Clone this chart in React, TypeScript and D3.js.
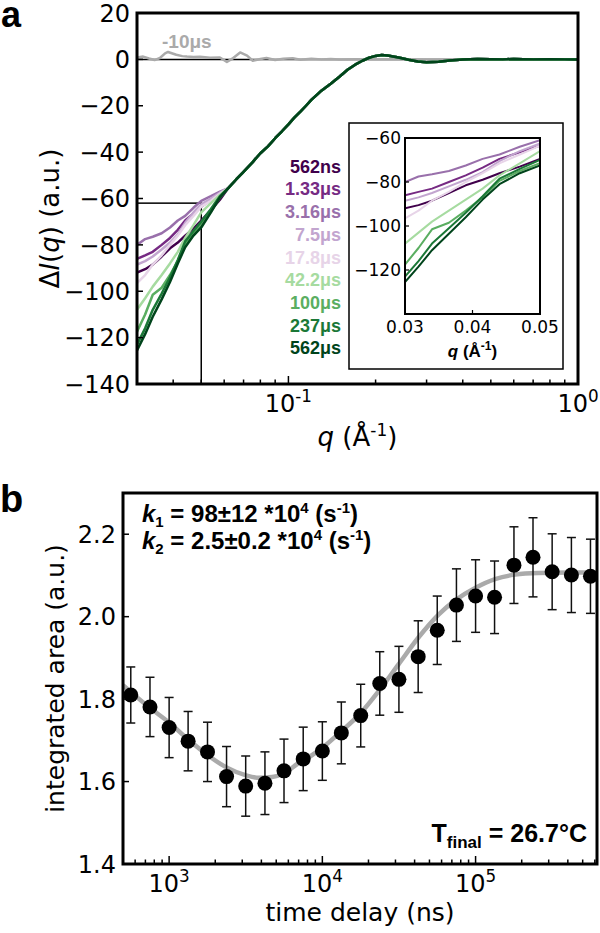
import React from 'react';
import * as d3 from 'd3';

// ---------- Panel a data ----------
const SERIES_LABELS = ['562ns', '1.33μs', '3.16μs', '7.5μs', '17.8μs', '42.2μs', '100μs', '237μs', '562μs'];
const SERIES_COLORS = ['#40004b', '#762a83', '#9970ab', '#c2a5cf', '#e7d4e8', '#a6dba0', '#5aae61', '#1b7837', '#00441b'];

const Q_LOW = [0.03, 0.032, 0.034, 0.0365, 0.039, 0.0415, 0.044, 0.047, 0.05, 0.054, 0.058];
const LOW_562NS = [-92, -90.5, -88.5, -85, -81.5, -79, -76, -73, -69.5, -65, -60.5];
const LOW_1_33US = [-86, -84.5, -83, -80, -77, -73.5, -69.5, -66.5, -63.5, -60.5, -58];
const LOW_3_16US = [-80, -77.5, -76.5, -75, -72.5, -69.5, -67.5, -64, -61, -59, -57];
const LOW_7_5US = [-88.5, -87, -85, -82, -79, -75.5, -70.5, -66, -62.5, -60, -57.5];
const LOW_17_8US = [-96.5, -93, -88.5, -84.5, -80, -76, -71.5, -67.5, -63.5, -61, -58];
const LOW_42_2US = [-108, -103, -98, -93, -88, -83, -77, -71.5, -66, -62, -58.5];
const LOW_100US = [-117.5, -110, -101.5, -98.5, -93, -87, -79.5, -75, -71.5, -65.5, -59.5];
const LOW_237US = [-123, -116, -108, -101, -94, -86.5, -78.5, -74, -70, -64.5, -59];
const LOW_562US = [-125.5, -118.5, -111, -103.5, -96, -88, -81, -76, -72.5, -66, -59.5];

const Q_TAIL = [0.062, 0.066, 0.07, 0.075, 0.08, 0.085, 0.09, 0.095, 0.1, 0.105, 0.11, 0.115, 0.12, 0.13, 0.14, 0.15, 0.16, 0.17, 0.18, 0.19, 0.2, 0.21, 0.22, 0.24, 0.26, 0.28, 0.3, 0.33, 0.36, 0.4, 0.45, 0.5, 0.55, 0.6, 0.7, 0.8, 0.9, 1.0];
const TAIL_VALUES = [-55.5, -51.8, -48.5, -44.5, -40.5, -37.5, -34, -31, -28, -25, -22.5, -20, -17.5, -13.5, -10.5, -7.5, -4.5, -2.3, -0.6, 0.7, 1.5, 1.9, 1.7, 0.8, -0.2, -0.9, -1.2, -1.0, -0.5, -0.1, 0.2, 0.1, 0, 0.2, 0, 0.1, 0, 0];

const SERIES_LOW = [LOW_562NS, LOW_1_33US, LOW_3_16US, LOW_7_5US, LOW_17_8US, LOW_42_2US, LOW_100US, LOW_237US, LOW_562US];

const GRAY_LABEL = '-10μs';
const GRAY_Q = [0.03, 0.0315, 0.033, 0.0345, 0.036, 0.0375, 0.0384, 0.041, 0.043, 0.0446, 0.047, 0.0495, 0.0536, 0.058, 0.0613, 0.064, 0.0681, 0.072, 0.0753, 0.08, 0.084, 0.09, 0.096, 0.1035, 0.11, 0.12, 0.13, 0.14, 0.15, 0.17, 0.2, 0.25, 0.3, 0.4, 0.5, 0.7, 1.0];
const GRAY_V = [0.8, 1.2, 0.4, -0.3, 0.6, 2.6, 3.2, 2.0, 1.4, 1.2, 1.0, 1.1, 0.7, 0.8, -1.1, 0.3, 3.0, 1.6, -0.6, 0.2, 0.6, -0.3, 0.3, 0.5, -0.2, 0.3, 0, 0.2, -0.1, 0.1, 0, 0.1, 0, 0, 0, 0, 0];

const TOP_Y_TICKS = [20, 0, -20, -40, -60, -80, -100, -120, -140];
const INSET_Y_TICKS = [-60, -80, -100, -120];
const INSET_X_TICKS = [0.03, 0.04, 0.05];
const ZOOM_BOX = { q0: 0.03, q1: 0.05, v0: -140, v1: -62 };

// ---------- Panel b data ----------
const TIMES = [562, 750, 1000, 1330, 1780, 2370, 3160, 4220, 5620, 7500, 10000, 13300, 17800, 23700, 31600, 42200, 56200, 75000, 100000, 133000, 178000, 237000, 316000, 422000, 562000];
const AREA = [1.810, 1.781, 1.731, 1.698, 1.672, 1.612, 1.589, 1.596, 1.626, 1.655, 1.674, 1.718, 1.760, 1.838, 1.848, 1.903, 1.967, 2.028, 2.050, 2.047, 2.125, 2.144, 2.109, 2.101, 2.098];
const AREA_ERR = [0.068, 0.072, 0.073, 0.072, 0.072, 0.073, 0.073, 0.076, 0.077, 0.077, 0.071, 0.075, 0.076, 0.077, 0.080, 0.087, 0.083, 0.088, 0.088, 0.088, 0.093, 0.096, 0.092, 0.091, 0.090];
const FIT_T = [500, 741, 1000, 1350, 1770, 2350, 3180, 3860, 4700, 5620, 7000, 8400, 10000, 13300, 17800, 23400, 31500, 42500, 57300, 74000, 100000, 134000, 181000, 256000, 400000, 620000];
const FIT_V = [1.834, 1.780, 1.743, 1.700, 1.665, 1.635, 1.615, 1.609, 1.611, 1.620, 1.645, 1.662, 1.682, 1.722, 1.766, 1.820, 1.885, 1.950, 2.005, 2.040, 2.070, 2.091, 2.102, 2.106, 2.107, 2.107];
const BOT_Y_TICKS = [1.4, 1.6, 1.8, 2.0, 2.2];

const AX_FONT = 'DejaVu Sans, sans-serif';
const BOLD_FONT = 'Liberation Sans, Arial, sans-serif';

const fmtMinus = (v: number, digits = 0) => (v < 0 ? '\u2212' : '') + Math.abs(v).toFixed(digits);
const isDecade = (v: number) => Math.abs(Math.log10(v) - Math.round(Math.log10(v))) < 1e-9;

function Pow10({ x, y, exp, size }: { x: number; y: number; exp: string; size: number }) {
  return (
    <text x={x} y={y} textAnchor="middle" fontFamily={AX_FONT} fontSize={size}>
      <tspan>10</tspan>
      <tspan dy={-size * 0.42} fontSize={size * 0.7}>{exp}</tspan>
    </text>
  );
}

export default function App() {
  // ---- panel a scales
  const A = { l: 137, r: 578, t: 13, b: 384 };
  const xA = d3.scaleLog().domain([0.03, 1]).range([A.l, A.r]);
  const yA = d3.scaleLinear().domain([-140, 20]).range([A.b, A.t]);
  const IN = { l: 405, r: 540, t: 138, b: 314 };
  const xI = d3.scaleLinear().domain([0.03, 0.05]).range([IN.l, IN.r]);
  const yI = d3.scaleLinear().domain([-140, -60]).range([IN.b, IN.t]);

  const qFull = [...Q_LOW, ...Q_TAIL];
  const seriesFull = SERIES_LOW.map((low) => [...low, ...TAIL_VALUES]);

  const lineA = d3.line<[number, number]>().x((d) => xA(d[0])).y((d) => yA(d[1]));
  const lineI = d3.line<[number, number]>().x((d) => xI(d[0])).y((d) => yI(d[1]));

  // ---- panel b scales
  const B = { l: 123, r: 597, t: 493, b: 864 };
  const xB = d3.scaleLog().domain([500, 620000]).range([B.l, B.r]);
  const yB = d3.scaleLinear().domain([1.4, 2.3]).range([B.b, B.t]);
  const fitLine = d3.line<[number, number]>().x((d) => xB(d[0])).y((d) => yB(d[1])).curve(d3.curveMonotoneX);

  const topXTicks = xA.ticks();
  const botXTicks = xB.ticks().filter((t) => t >= 500 && t <= 620000);

  return (
    <svg width={600} height={933} style={{ position: 'absolute', left: 0, top: 0, background: '#fff' }}>
      <defs>
        <clipPath id="clipA"><rect x={A.l} y={A.t} width={A.r - A.l} height={A.b - A.t} /></clipPath>
        <clipPath id="clipI"><rect x={IN.l} y={IN.t} width={IN.r - IN.l} height={IN.b - IN.t} /></clipPath>
        <clipPath id="clipB"><rect x={B.l} y={B.t} width={B.r - B.l} height={B.b - B.t} /></clipPath>
      </defs>
      <rect x={0} y={0} width={600} height={933} fill="#fff" />

      {/* ================= Panel a ================= */}
      <text x={1} y={27} fontFamily={BOLD_FONT} fontWeight="bold" fontSize={36}>a</text>
      <g clipPath="url(#clipA)">
        <line x1={A.l} x2={A.r} y1={yA(0)} y2={yA(0)} stroke="#000" strokeWidth={1.5} />
        <path d={lineA(GRAY_Q.map((q, i) => [q, GRAY_V[i]] as [number, number])) || ''} fill="none" stroke="#aaaaaa" strokeWidth={2.5} strokeLinejoin="round" />
        <rect x={xA(ZOOM_BOX.q0)} y={yA(ZOOM_BOX.v1)} width={xA(ZOOM_BOX.q1) - xA(ZOOM_BOX.q0)} height={yA(ZOOM_BOX.v0) - yA(ZOOM_BOX.v1)} fill="none" stroke="#000" strokeWidth={1.5} />
        {seriesFull.map((vals, si) => (
          <path key={si} d={lineA(qFull.map((q, i) => [q, vals[i]] as [number, number])) || ''} fill="none" stroke={SERIES_COLORS[si]} strokeWidth={2.5} strokeLinejoin="round" />
        ))}
      </g>
      <text x={162} y={48} fontFamily={BOLD_FONT} fontWeight="bold" fontSize={19} fill="#aaaaaa">{GRAY_LABEL}</text>
      {/* legend */}
      {SERIES_LABELS.map((lab, i) => (
        <text key={lab} x={341} y={172.7 + i * 22.7} textAnchor="end" fontFamily={BOLD_FONT} fontWeight="bold" fontSize={18} fill={SERIES_COLORS[i]}>{lab}</text>
      ))}
      {/* axes frame */}
      <rect x={A.l} y={A.t} width={A.r - A.l} height={A.b - A.t} fill="none" stroke="#000" strokeWidth={3} />
      {TOP_Y_TICKS.map((t) => (
        <g key={t}>
          <line x1={A.l} x2={A.l + 6} y1={yA(t)} y2={yA(t)} stroke="#000" strokeWidth={1.5} />
          <text x={A.l - 7} y={yA(t)} dy="0.36em" textAnchor="end" fontFamily={AX_FONT} fontSize={24}>{fmtMinus(t)}</text>
        </g>
      ))}
      {topXTicks.map((t, i) => (
        <line key={i} x1={xA(t)} x2={xA(t)} y1={A.b} y2={A.b - (isDecade(t) ? 8 : 4.5)} stroke="#000" strokeWidth={1.5} />
      ))}
      {topXTicks.filter(isDecade).map((t) => (
        <Pow10 key={t} x={xA(t)} y={412} exp={String(Math.round(Math.log10(t)))} size={24} />
      ))}
      <text x={(A.l + A.r) / 2} y={446} textAnchor="middle" fontFamily={AX_FONT} fontSize={26}>
        <tspan fontStyle="italic">q</tspan>
        <tspan> (Å</tspan>
        <tspan dy={-10} fontSize={17}>-1</tspan>
        <tspan dy={10}>)</tspan>
      </text>
      <text transform={`translate(59,${(A.t + A.b) / 2 + 20}) rotate(-90)`} textAnchor="middle" fontFamily={AX_FONT} fontSize={26}>
        <tspan>Δ</tspan>
        <tspan fontStyle="italic">I</tspan>
        <tspan>(</tspan>
        <tspan fontStyle="italic">q</tspan>
        <tspan>) (a.u.)</tspan>
      </text>

      {/* inset */}
      <rect x={349} y={123} width={214} height={246} fill="#fff" stroke="#000" strokeWidth={1.5} />
      <g clipPath="url(#clipI)">
        {SERIES_LOW.map((vals, si) => (
          <path key={si} d={lineI(Q_LOW.map((q, i) => [q, vals[i]] as [number, number])) || ''} fill="none" stroke={SERIES_COLORS[si]} strokeWidth={2} strokeLinejoin="round" />
        ))}
      </g>
      <rect x={IN.l} y={IN.t} width={IN.r - IN.l} height={IN.b - IN.t} fill="none" stroke="#000" strokeWidth={2} />
      {INSET_Y_TICKS.map((t) => (
        <g key={t}>
          <line x1={IN.l} x2={IN.l + 4} y1={yI(t)} y2={yI(t)} stroke="#000" strokeWidth={1.2} />
          <text x={IN.l - 4} y={yI(t)} dy="0.36em" textAnchor="end" fontFamily={AX_FONT} fontSize={17}>{fmtMinus(t)}</text>
        </g>
      ))}
      {INSET_X_TICKS.map((t) => (
        <g key={t}>
          <line x1={xI(t)} x2={xI(t)} y1={IN.b} y2={IN.b - 4} stroke="#000" strokeWidth={1.2} />
          <text x={xI(t)} y={333} textAnchor="middle" fontFamily={AX_FONT} fontSize={17}>{t.toFixed(2)}</text>
        </g>
      ))}
      <text x={(IN.l + IN.r) / 2} y={357} textAnchor="middle" fontFamily={BOLD_FONT} fontWeight="bold" fontSize={17}>
        <tspan fontStyle="italic">q</tspan>
        <tspan> (Å</tspan>
        <tspan dy={-7} fontSize={12}>-1</tspan>
        <tspan dy={7}>)</tspan>
      </text>

      {/* ================= Panel b ================= */}
      <text x={0} y={512} fontFamily={BOLD_FONT} fontWeight="bold" fontSize={38}>b</text>
      <g clipPath="url(#clipB)">
        <path d={fitLine(FIT_T.map((t, i) => [t, FIT_V[i]] as [number, number])) || ''} fill="none" stroke="#aaaaaa" strokeWidth={4.5} />
        {TIMES.map((t, i) => {
          const x = xB(t);
          const y0 = yB(AREA[i] - AREA_ERR[i]);
          const y1 = yB(AREA[i] + AREA_ERR[i]);
          return (
            <g key={t}>
              <line x1={x} x2={x} y1={y0} y2={y1} stroke="#111" strokeWidth={1.5} />
              <line x1={x - 4.5} x2={x + 4.5} y1={y0} y2={y0} stroke="#111" strokeWidth={1.5} />
              <line x1={x - 4.5} x2={x + 4.5} y1={y1} y2={y1} stroke="#111" strokeWidth={1.5} />
              <circle cx={x} cy={yB(AREA[i])} r={7.5} fill="#000" />
            </g>
          );
        })}
      </g>
      <rect x={B.l} y={B.t} width={B.r - B.l} height={B.b - B.t} fill="none" stroke="#000" strokeWidth={3} />
      {BOT_Y_TICKS.map((t) => (
        <g key={t}>
          <line x1={B.l} x2={B.l + 6} y1={yB(t)} y2={yB(t)} stroke="#000" strokeWidth={1.5} />
          <text x={B.l - 7} y={yB(t)} dy="0.36em" textAnchor="end" fontFamily={AX_FONT} fontSize={24}>{t.toFixed(1)}</text>
        </g>
      ))}
      {botXTicks.map((t, i) => (
        <line key={i} x1={xB(t)} x2={xB(t)} y1={B.b} y2={B.b - (isDecade(t) ? 8 : 4.5)} stroke="#000" strokeWidth={1.5} />
      ))}
      {botXTicks.filter(isDecade).map((t) => (
        <Pow10 key={t} x={xB(t)} y={892} exp={String(Math.round(Math.log10(t)))} size={24} />
      ))}
      <text x={(B.l + B.r) / 2} y={921} textAnchor="middle" fontFamily={AX_FONT} fontSize={25}>time delay (ns)</text>
      <text transform={`translate(64,${(B.t + B.b) / 2}) rotate(-90)`} textAnchor="middle" fontFamily={AX_FONT} fontSize={25}>integrated area (a.u.)</text>

      <text x={142} y={522} fontFamily={BOLD_FONT} fontWeight="bold" fontSize={24}>
        <tspan fontStyle="italic">k</tspan>
        <tspan dy={5} fontSize={15}>1</tspan>
        <tspan dy={-5}> = 98±12 *10</tspan>
        <tspan dy={-9} fontSize={15}>4</tspan>
        <tspan dy={9}> (s</tspan>
        <tspan dy={-9} fontSize={15}>-1</tspan>
        <tspan dy={9}>)</tspan>
      </text>
      <text x={142} y={549} fontFamily={BOLD_FONT} fontWeight="bold" fontSize={24}>
        <tspan fontStyle="italic">k</tspan>
        <tspan dy={5} fontSize={15}>2</tspan>
        <tspan dy={-5}> = 2.5±0.2 *10</tspan>
        <tspan dy={-9} fontSize={15}>4</tspan>
        <tspan dy={9}> (s</tspan>
        <tspan dy={-9} fontSize={15}>-1</tspan>
        <tspan dy={9}>)</tspan>
      </text>
      <text x={587} y={842} textAnchor="end" fontFamily={BOLD_FONT} fontWeight="bold" fontSize={25}>
        <tspan>T</tspan>
        <tspan dy={6} fontSize={17}>final</tspan>
        <tspan dy={-6}> = 26.7°C</tspan>
      </text>
    </svg>
  );
}
